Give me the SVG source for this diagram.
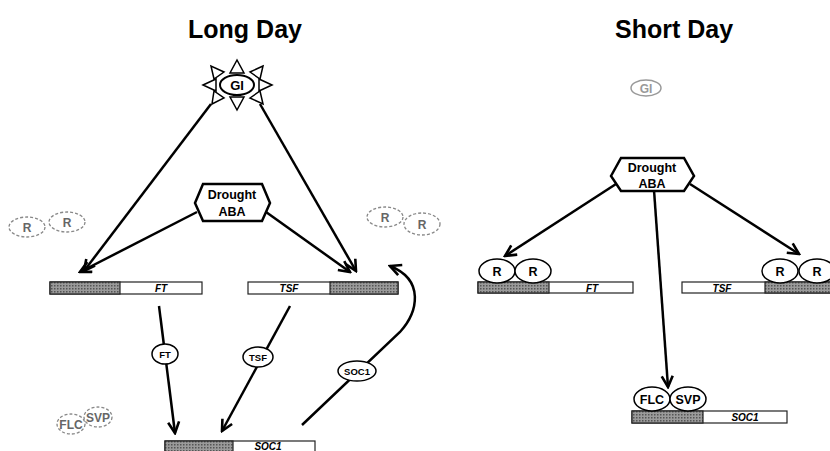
<svg xmlns="http://www.w3.org/2000/svg" width="830" height="451" viewBox="0 0 830 451">
<defs>
<marker id="ah" viewBox="0 0 14 14" refX="12" refY="7" markerWidth="14" markerHeight="14" markerUnits="userSpaceOnUse" orient="auto">
<path d="M1,1.5 L12,7 L1,12.5" fill="none" stroke="#000" stroke-width="2.6"/>
</marker>
<pattern id="dots" width="3" height="3" patternUnits="userSpaceOnUse">
<rect width="3" height="3" fill="#9a9a9a"/>
<rect width="1.5" height="1.5" fill="#555"/>
</pattern>
</defs>
<style>
.title{font-family:"Liberation Sans",Arial,sans-serif;font-weight:bold;font-size:25px;text-anchor:middle;fill:#000}
.lbl{font-family:"Liberation Sans",Arial,sans-serif;font-weight:bold;text-anchor:middle;fill:#000}
.glbl{font-family:"Liberation Sans",Arial,sans-serif;font-weight:bold;text-anchor:middle;fill:#666}
.gene{font-family:"Liberation Sans",Arial,sans-serif;font-weight:bold;font-style:italic;font-size:10px;text-anchor:middle;fill:#000}
.bar{fill:#fff;stroke:#222;stroke-width:1.2}
.shade{fill:url(#dots);stroke:#222;stroke-width:1.2}
.edge{fill:none;stroke:#000;stroke-width:2.5;marker-end:url(#ah)}
.dash{fill:#fff;stroke:#888;stroke-width:1.3;stroke-dasharray:3 2}
.prot{fill:#fff;stroke:#000;stroke-width:1.5}
.ray{fill:#fff;stroke:#000;stroke-width:1.5}
.hex{fill:#fff;stroke:#000;stroke-width:2.5}
.gray{fill:#fff;stroke:#999;stroke-width:1.5}
</style>
<rect width="830" height="451" fill="#fff"/>
<text class="title" x="245" y="38">Long Day</text>
<text class="title" x="674" y="38">Short Day</text>

<g id="connectors">
<line class="edge" x1="211" y1="104" x2="84" y2="271"/>
<line class="edge" x1="260" y1="104" x2="356" y2="271"/>
<line class="edge" x1="197" y1="212" x2="80" y2="272"/>
<line class="edge" x1="266" y1="212" x2="350" y2="272"/>
<line class="edge" x1="159" y1="306" x2="175" y2="433"/>
<line class="edge" x1="290" y1="306" x2="222" y2="431"/>
<path class="edge" d="M302,425 L400,332 C418,312 425,280 390,266"/>
<line class="edge" x1="616" y1="184" x2="505" y2="256"/>
<line class="edge" x1="654" y1="190" x2="668" y2="387"/>
<line class="edge" x1="690" y1="184" x2="799" y2="254"/>
</g>

<g id="gi-sun">
<polygon class="ray" points="237,60 230,73 244,73"/>
<polygon class="ray" points="237,110 230,97 244,97"/>
<polygon class="ray" points="203,85 216,79 216,91"/>
<polygon class="ray" points="272,85 259,79 259,91"/>
<polygon class="ray" points="211,66 214,79 224,72"/>
<polygon class="ray" points="263,66 250,72 260,79"/>
<polygon class="ray" points="212,104 224,98 214,91"/>
<polygon class="ray" points="263,104 260,91 250,98"/>
<ellipse cx="237" cy="85" rx="17" ry="10" fill="#fff" stroke="#000" stroke-width="2"/>
<text class="lbl" x="237" y="90" font-size="13">GI</text>
</g>

<g id="drought-left">
<polygon class="hex" points="195,203 203,184 262,184 270,203 262,221 203,221"/>
<text class="lbl" x="232" y="199" font-size="12.5">Drought</text>
<text class="lbl" x="232" y="216" font-size="12.5">ABA</text>
</g>

<g id="r-left">
<ellipse class="dash" cx="27" cy="227" rx="18" ry="10"/>
<text class="glbl" x="27" y="231.5" font-size="12">R</text>
<ellipse class="dash" cx="67" cy="222" rx="18" ry="10"/>
<text class="glbl" x="67" y="226.5" font-size="12">R</text>
</g>

<g id="r-right">
<ellipse class="dash" cx="385" cy="217" rx="18" ry="10"/>
<text class="glbl" x="385" y="221.5" font-size="12">R</text>
<ellipse class="dash" cx="422" cy="224" rx="18" ry="11"/>
<text class="glbl" x="422" y="228.5" font-size="12">R</text>
</g>

<g id="ft-gene-left">
<rect class="bar" x="50" y="282" width="152" height="12"/>
<rect class="shade" x="50" y="282" width="70" height="12"/>
<text class="gene" x="161" y="292">FT</text>
</g>

<g id="tsf-gene-left">
<rect class="bar" x="248" y="282" width="150" height="12"/>
<rect class="shade" x="330" y="282" width="68" height="12"/>
<text class="gene" x="289" y="292">TSF</text>
</g>

<g id="ft-protein">
<ellipse class="prot" cx="165" cy="354" rx="13" ry="10"/>
<text class="lbl" x="165" y="357.5" font-size="9.5">FT</text>
</g>
<g id="tsf-protein">
<ellipse class="prot" cx="258" cy="357" rx="15" ry="10"/>
<text class="lbl" x="258" y="360.5" font-size="9.5">TSF</text>
</g>
<g id="soc1-protein">
<ellipse class="prot" cx="357" cy="371" rx="19" ry="10"/>
<text class="lbl" x="357" y="374.5" font-size="9.5">SOC1</text>
</g>

<g id="flc-svp-left">
<ellipse class="dash" cx="71" cy="424" rx="14" ry="10"/>
<text class="glbl" x="71" y="428.5" font-size="12">FLC</text>
<ellipse class="dash" cx="98" cy="417" rx="14" ry="10"/>
<text class="glbl" x="98" y="421.5" font-size="12">SVP</text>
</g>

<g id="soc1-gene-left">
<rect class="bar" x="165" y="441" width="150" height="13"/>
<rect class="shade" x="165" y="441" width="68" height="13"/>
<text class="gene" x="268" y="450">SOC1</text>
</g>

<g id="gi-short">
<ellipse class="gray" cx="646" cy="88" rx="15" ry="8"/>
<text class="glbl" x="646" y="92.5" font-size="12" style="fill:#999">GI</text>
</g>

<g id="drought-right">
<polygon class="hex" points="611,176 621,158 684,158 694,176 684,191 621,191"/>
<text class="lbl" x="652" y="172" font-size="12.5">Drought</text>
<text class="lbl" x="652" y="188" font-size="12.5">ABA</text>
</g>

<g id="ft-gene-right">
<rect class="bar" x="478" y="282" width="155" height="11"/>
<rect class="shade" x="478" y="282" width="71" height="11"/>
<text class="gene" x="592" y="291.5">FT</text>
<ellipse class="prot" cx="497" cy="271" rx="18" ry="12"/>
<text class="lbl" x="497" y="275.5" font-size="12.5">R</text>
<ellipse class="prot" cx="533" cy="271" rx="18" ry="12"/>
<text class="lbl" x="533" y="275.5" font-size="12.5">R</text>
</g>

<g id="tsf-gene-right">
<rect class="bar" x="682" y="282" width="150" height="11"/>
<rect class="shade" x="765" y="282" width="67" height="11"/>
<text class="gene" x="722" y="291.5">TSF</text>
<ellipse class="prot" cx="780" cy="271" rx="18" ry="12"/>
<text class="lbl" x="780" y="275.5" font-size="12.5">R</text>
<ellipse class="prot" cx="817" cy="271" rx="18" ry="12"/>
<text class="lbl" x="817" y="275.5" font-size="12.5">R</text>
</g>

<g id="soc1-gene-right">
<rect class="bar" x="632" y="411" width="155" height="12"/>
<rect class="shade" x="632" y="411" width="71" height="12"/>
<text class="gene" x="745" y="420.5">SOC1</text>
<ellipse class="prot" cx="652" cy="399" rx="18" ry="12"/>
<text class="lbl" x="652" y="403.5" font-size="12.5">FLC</text>
<ellipse class="prot" cx="688" cy="399" rx="18" ry="12"/>
<text class="lbl" x="688" y="403.5" font-size="12.5">SVP</text>
</g>
</svg>
